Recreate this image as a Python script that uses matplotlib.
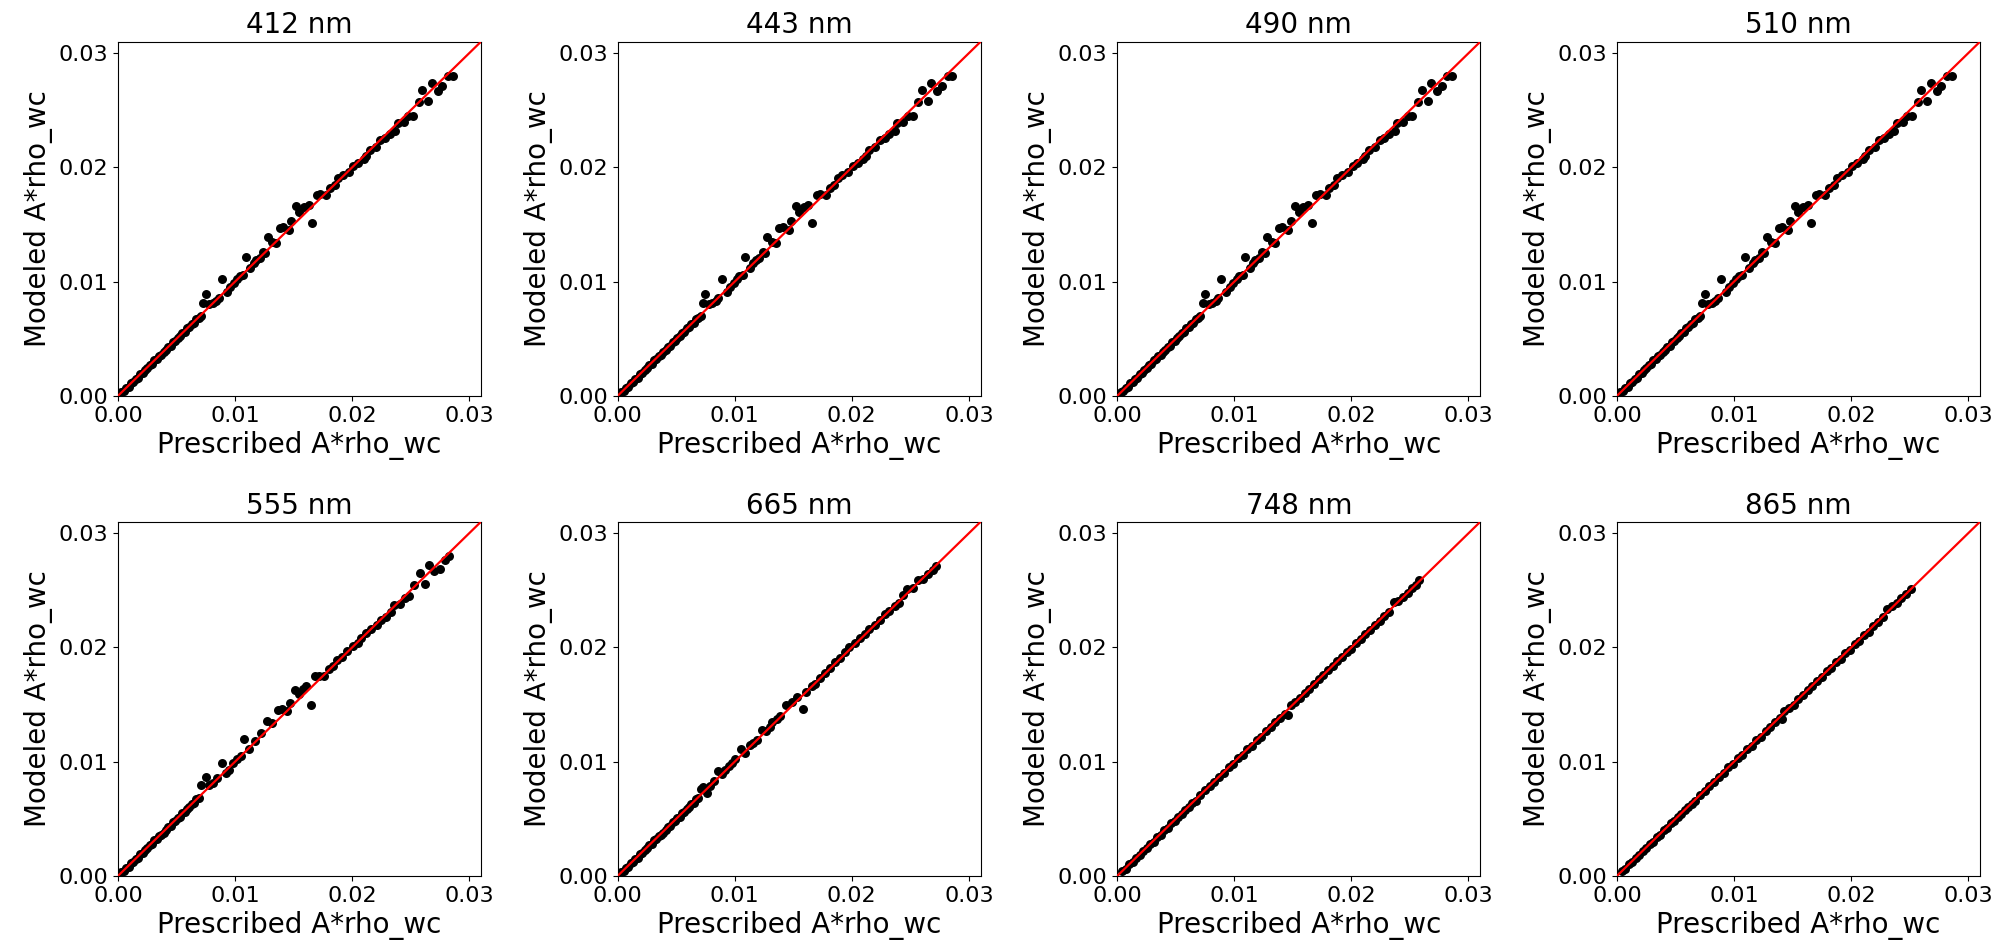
import matplotlib
matplotlib.use("Agg")
import matplotlib.pyplot as plt

titles = ["412 nm", "443 nm", "490 nm", "510 nm", "555 nm", "665 nm", "748 nm", "865 nm"]
xlabel = "Prescribed A*rho_wc"
ylabel = "Modeled A*rho_wc"
ticks = [0.00, 0.01, 0.02, 0.03]

# 412 / 443 / 490 / 510 nm (visually identical panels)
x_blue = [0.0003, 0.0005, 0.0007, 0.0009, 0.0011, 0.0013, 0.0015, 0.0017, 0.0019, 0.0021,
          0.0023, 0.0025, 0.0027, 0.0029, 0.0031, 0.0033, 0.0035, 0.0037, 0.0039, 0.0041,
          0.0043, 0.0045, 0.0047, 0.0049, 0.0051, 0.0053, 0.0055, 0.0057, 0.0059, 0.0061,
          0.0063, 0.0065, 0.0067, 0.0069, 0.0071,
          0.0073, 0.0075, 0.0078, 0.0081, 0.0084, 0.0086, 0.0089, 0.0093, 0.0096, 0.0099,
          0.0102, 0.0104, 0.0107, 0.0109, 0.0113, 0.0116, 0.0118, 0.0121, 0.0124, 0.0126,
          0.0128, 0.0132, 0.0135, 0.0138, 0.0141, 0.0146, 0.0148, 0.0152, 0.0155, 0.0159,
          0.0163, 0.0166, 0.0170, 0.0173, 0.0178, 0.0181, 0.0185, 0.0188, 0.0192, 0.0197,
          0.0201, 0.0205, 0.0210, 0.0212, 0.0215, 0.0220, 0.0224, 0.0228, 0.0232, 0.0237,
          0.0239, 0.0244, 0.0248, 0.0252, 0.0257, 0.0260, 0.0265, 0.0268, 0.0273, 0.0277,
          0.0282, 0.0286]
y_blue = [0.0003, 0.0004, 0.0007, 0.0008, 0.0011, 0.0012, 0.0015, 0.0016, 0.0019, 0.0020,
          0.0023, 0.0024, 0.0027, 0.0028, 0.0031, 0.0032, 0.0035, 0.0036, 0.0038, 0.0040,
          0.0043, 0.0044, 0.0047, 0.0048, 0.0051, 0.0052, 0.0055, 0.0056, 0.0059, 0.0060,
          0.0063, 0.0064, 0.0067, 0.0068, 0.0070,
          0.0081, 0.0089, 0.0080, 0.0081, 0.0083, 0.0086, 0.0102, 0.0091, 0.0095, 0.0099,
          0.0102, 0.0105, 0.0106, 0.0122, 0.0112, 0.0116, 0.0119, 0.0121, 0.0126, 0.0125,
          0.0139, 0.0135, 0.0134, 0.0147, 0.0148, 0.0145, 0.0153, 0.0166, 0.0161, 0.0165,
          0.0167, 0.0151, 0.0176, 0.0177, 0.0176, 0.0182, 0.0185, 0.0191, 0.0193, 0.0196,
          0.0201, 0.0204, 0.0207, 0.0210, 0.0215, 0.0218, 0.0224, 0.0226, 0.0229, 0.0232,
          0.0239, 0.0240, 0.0245, 0.0245, 0.0257, 0.0268, 0.0258, 0.0274, 0.0267, 0.0271,
          0.0280, 0.0280]

x_555 = [0.0003, 0.0005, 0.0007, 0.0009, 0.0011, 0.0013, 0.0015, 0.0017, 0.0019, 0.0021,
         0.0023, 0.0025, 0.0027, 0.0029, 0.0031, 0.0033, 0.0035, 0.0037, 0.0039, 0.0041,
         0.0043, 0.0045, 0.0047, 0.0049, 0.0051, 0.0053, 0.0055, 0.0057, 0.0059, 0.0061,
         0.0063, 0.0065, 0.0067, 0.0069,
         0.0071, 0.0075, 0.0078, 0.0081, 0.0085, 0.0089, 0.0092, 0.0095, 0.0098, 0.0102,
         0.0105, 0.0108, 0.0112, 0.0117, 0.0122, 0.0127, 0.0132, 0.0137, 0.0140, 0.0144,
         0.0147, 0.0151, 0.0155, 0.0158, 0.0161, 0.0165, 0.0168, 0.0172, 0.0176, 0.0180,
         0.0184, 0.0187, 0.0191, 0.0196, 0.0201, 0.0205, 0.0208, 0.0212, 0.0216, 0.0221,
         0.0225, 0.0229, 0.0233, 0.0236, 0.0241, 0.0245, 0.0249, 0.0253, 0.0258, 0.0262,
         0.0266, 0.0270, 0.0275, 0.0279, 0.0283]
y_555 = [0.0003, 0.0004, 0.0007, 0.0008, 0.0011, 0.0012, 0.0015, 0.0016, 0.0019, 0.0020,
         0.0023, 0.0024, 0.0027, 0.0028, 0.0031, 0.0032, 0.0035, 0.0036, 0.0038, 0.0040,
         0.0043, 0.0044, 0.0047, 0.0048, 0.0051, 0.0052, 0.0055, 0.0056, 0.0059, 0.0060,
         0.0063, 0.0064, 0.0067, 0.0068,
         0.0080, 0.0087, 0.0080, 0.0081, 0.0086, 0.0099, 0.0090, 0.0093, 0.0099, 0.0102,
         0.0105, 0.0120, 0.0111, 0.0118, 0.0125, 0.0136, 0.0134, 0.0145, 0.0146, 0.0144,
         0.0151, 0.0163, 0.0159, 0.0164, 0.0166, 0.0150, 0.0175, 0.0175, 0.0175, 0.0181,
         0.0184, 0.0189, 0.0192, 0.0197, 0.0201, 0.0204, 0.0208, 0.0213, 0.0216, 0.0220,
         0.0224, 0.0227, 0.0231, 0.0237, 0.0238, 0.0243, 0.0245, 0.0255, 0.0265, 0.0256,
         0.0272, 0.0267, 0.0269, 0.0277, 0.0280]

x_665 = [0.0003, 0.0005, 0.0007, 0.0009, 0.0011, 0.0013, 0.0015, 0.0017, 0.0019, 0.0021,
         0.0023, 0.0025, 0.0027, 0.0029, 0.0031, 0.0033, 0.0035, 0.0037, 0.0039, 0.0041,
         0.0043, 0.0045, 0.0047, 0.0049, 0.0051, 0.0053, 0.0055, 0.0057, 0.0059, 0.0061,
         0.0063, 0.0065, 0.0067, 0.0069,
         0.0071, 0.0073, 0.0076, 0.0079, 0.0082, 0.0086, 0.0089, 0.0092, 0.0095, 0.0098,
         0.0100, 0.0105, 0.0109, 0.0113, 0.0116, 0.0119, 0.0123, 0.0127, 0.0130, 0.0132,
         0.0136, 0.0139, 0.0144, 0.0149, 0.0153, 0.0158, 0.0161, 0.0166, 0.0169, 0.0173,
         0.0177, 0.0181, 0.0186, 0.0190, 0.0194, 0.0198, 0.0203, 0.0207, 0.0211, 0.0215,
         0.0220, 0.0224, 0.0228, 0.0232, 0.0237, 0.0240, 0.0244, 0.0247, 0.0252, 0.0257,
         0.0261, 0.0265, 0.0269, 0.0272]
y_665 = [0.0003, 0.0004, 0.0007, 0.0008, 0.0011, 0.0012, 0.0015, 0.0016, 0.0019, 0.0020,
         0.0023, 0.0024, 0.0027, 0.0028, 0.0031, 0.0032, 0.0035, 0.0036, 0.0038, 0.0040,
         0.0043, 0.0044, 0.0047, 0.0048, 0.0051, 0.0052, 0.0055, 0.0056, 0.0059, 0.0060,
         0.0063, 0.0064, 0.0067, 0.0068,
         0.0076, 0.0078, 0.0073, 0.0079, 0.0083, 0.0092, 0.0089, 0.0093, 0.0096, 0.0099,
         0.0102, 0.0111, 0.0108, 0.0115, 0.0116, 0.0119, 0.0128, 0.0127, 0.0130, 0.0135,
         0.0137, 0.0140, 0.0150, 0.0152, 0.0157, 0.0146, 0.0161, 0.0166, 0.0168, 0.0173,
         0.0178, 0.0182, 0.0187, 0.0191, 0.0196, 0.0200, 0.0204, 0.0208, 0.0212, 0.0216,
         0.0220, 0.0224, 0.0229, 0.0232, 0.0236, 0.0239, 0.0246, 0.0251, 0.0252, 0.0259,
         0.0260, 0.0264, 0.0268, 0.0271]

x_748 = [0.0004, 0.0007, 0.0010, 0.0013, 0.0016, 0.0019, 0.0022, 0.0025, 0.0028, 0.0031,
         0.0034, 0.0037, 0.0040, 0.0043, 0.0046, 0.0049, 0.0052, 0.0055, 0.0058, 0.0061,
         0.0064, 0.0067,
         0.0071, 0.0075, 0.0079, 0.0083, 0.0087, 0.0091, 0.0095, 0.0099, 0.0103, 0.0107,
         0.0111, 0.0115, 0.0119, 0.0123, 0.0127, 0.0131, 0.0135, 0.0139, 0.0143,
         0.0146, 0.0148,
         0.0152, 0.0156, 0.0160, 0.0164, 0.0168, 0.0172, 0.0176, 0.0180, 0.0184, 0.0188,
         0.0192, 0.0196, 0.0200, 0.0204, 0.0208, 0.0212, 0.0216, 0.0220, 0.0224, 0.0228,
         0.0232, 0.0236, 0.0240, 0.0244, 0.0248, 0.0252,
         0.0255, 0.0258]
y_748 = [0.0004, 0.0006, 0.0010, 0.0012, 0.0016, 0.0018, 0.0022, 0.0024, 0.0028, 0.0030,
         0.0034, 0.0036, 0.0040, 0.0042, 0.0046, 0.0048, 0.0052, 0.0054, 0.0058, 0.0060,
         0.0064, 0.0066,
         0.0071, 0.0075, 0.0079, 0.0082, 0.0087, 0.0090, 0.0095, 0.0098, 0.0103, 0.0106,
         0.0111, 0.0114, 0.0119, 0.0122, 0.0127, 0.0130, 0.0135, 0.0138, 0.0142,
         0.0141, 0.0150,
         0.0152, 0.0156, 0.0160, 0.0164, 0.0168, 0.0172, 0.0176, 0.0180, 0.0184, 0.0188,
         0.0192, 0.0196, 0.0199, 0.0204, 0.0207, 0.0212, 0.0215, 0.0220, 0.0223, 0.0228,
         0.0231, 0.0240, 0.0241, 0.0244, 0.0248, 0.0252,
         0.0255, 0.0259]

x_865 = [0.0004, 0.0007, 0.0010, 0.0013, 0.0016, 0.0019, 0.0022, 0.0025, 0.0028, 0.0031,
         0.0034, 0.0037, 0.0040, 0.0043, 0.0046, 0.0049, 0.0052, 0.0055, 0.0058, 0.0061,
         0.0064, 0.0067,
         0.0071, 0.0075, 0.0079, 0.0083, 0.0087, 0.0091, 0.0095, 0.0099, 0.0103, 0.0107,
         0.0111, 0.0115, 0.0119, 0.0123, 0.0127, 0.0131, 0.0135, 0.0139,
         0.0141, 0.0143,
         0.0147, 0.0151, 0.0155, 0.0159, 0.0163, 0.0167, 0.0171, 0.0175, 0.0179, 0.0183,
         0.0187, 0.0191, 0.0195, 0.0199, 0.0203, 0.0207, 0.0211, 0.0215, 0.0219, 0.0223,
         0.0227, 0.0231, 0.0235, 0.0239, 0.0243, 0.0247, 0.0251]
y_865 = [0.0004, 0.0006, 0.0010, 0.0012, 0.0016, 0.0018, 0.0022, 0.0024, 0.0028, 0.0030,
         0.0034, 0.0036, 0.0040, 0.0042, 0.0046, 0.0048, 0.0052, 0.0054, 0.0058, 0.0060,
         0.0063, 0.0066,
         0.0071, 0.0074, 0.0079, 0.0082, 0.0087, 0.0090, 0.0095, 0.0098, 0.0103, 0.0106,
         0.0111, 0.0114, 0.0119, 0.0122, 0.0127, 0.0130, 0.0135, 0.0138,
         0.0137, 0.0144,
         0.0147, 0.0150, 0.0155, 0.0158, 0.0163, 0.0166, 0.0171, 0.0174, 0.0179, 0.0182,
         0.0187, 0.0190, 0.0195, 0.0198, 0.0203, 0.0206, 0.0211, 0.0214, 0.0219, 0.0222,
         0.0227, 0.0234, 0.0236, 0.0239, 0.0243, 0.0247, 0.0251]

xs = [x_blue, x_blue, x_blue, x_blue, x_555, x_665, x_748, x_865]
ys = [y_blue, y_blue, y_blue, y_blue, y_555, y_665, y_748, y_865]
lim = [0.0, 0.031]

fig, axes = plt.subplots(2, 4, figsize=(20.1, 9.5), dpi=100)
fig.subplots_adjust(left=0.0587, right=0.985, bottom=0.078, top=0.956,
                    wspace=0.377, hspace=0.356)

for ax, t, x, y in zip(axes.flat, titles, xs, ys):
    ax.scatter(x, y, s=42, color="black", linewidths=0, zorder=2)
    ax.plot(lim, lim, color="red", linewidth=1.6, zorder=3)
    ax.set_xlim(lim)
    ax.set_ylim(lim)
    ax.set_xticks(ticks)
    ax.set_yticks(ticks)
    ax.set_xticklabels([f"{v:.2f}" for v in ticks])
    ax.set_yticklabels([f"{v:.2f}" for v in ticks])
    ax.tick_params(labelsize=16)
    ax.set_title(t, fontsize=20)
    ax.set_xlabel(xlabel, fontsize=20)
    ax.set_ylabel(ylabel, fontsize=20)

fig.savefig("out.png", dpi=100)
